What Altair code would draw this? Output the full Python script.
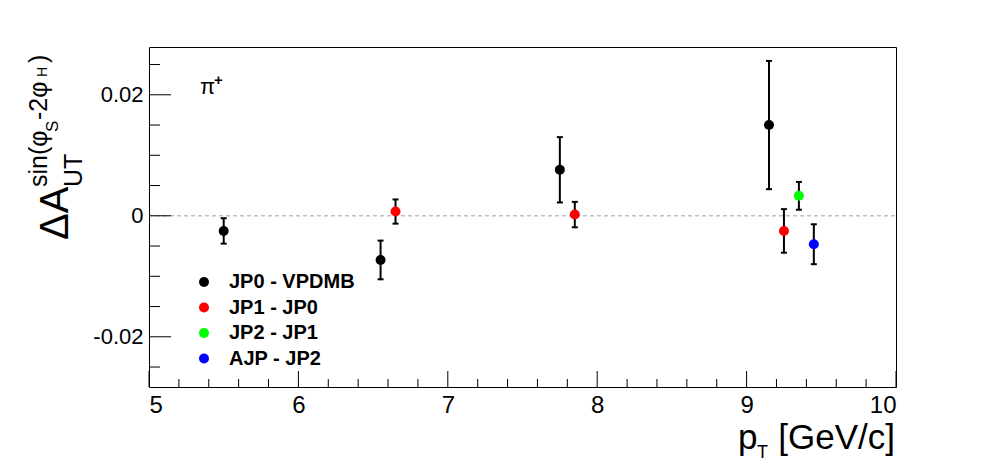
import altair as alt
import pandas as pd

# ---- data ----
series_names = ["JP0 - VPDMB", "JP1 - JP0", "JP2 - JP1", "AJP - JP2"]
series_colors = ["#000000", "#ff0000", "#00ff00", "#0000ff"]

pt = [5.5, 6.55, 6.65, 7.75, 7.85, 9.15, 9.25, 9.35, 9.45]
asym = [-0.0025, -0.0073, 0.0007, 0.0076, 0.0002, 0.0150, -0.0025, 0.0033, -0.0047]
err = [0.0021, 0.0032, 0.0020, 0.0054, 0.0021, 0.0106, 0.0036, 0.0023, 0.0033]
series = ["JP0 - VPDMB", "JP0 - VPDMB", "JP1 - JP0", "JP0 - VPDMB", "JP1 - JP0",
          "JP0 - VPDMB", "JP1 - JP0", "JP2 - JP1", "AJP - JP2"]

x_major = [5, 6, 7, 8, 9, 10]
x_minor = [5.2, 5.4, 5.6, 5.8, 6.2, 6.4, 6.6, 6.8, 7.2, 7.4, 7.6, 7.8,
           8.2, 8.4, 8.6, 8.8, 9.2, 9.4, 9.6, 9.8]
y_major = [-0.02, 0.0, 0.02]
y_minor = [-0.025, -0.015, -0.01, -0.005, 0.005, 0.01, 0.015, 0.025]

x_domain = [5, 10]
y_domain = [-0.0283, 0.0279]

FONT = "Liberation Sans"
W, H = 747, 340

df = pd.DataFrame({"x": pt, "y": asym, "err": err, "series": series})
df["lo"] = df["y"] - df["err"]
df["hi"] = df["y"] + df["err"]

xs = alt.Scale(domain=x_domain, nice=False, zero=False)
ys = alt.Scale(domain=y_domain, nice=False, zero=False)
xaxis = alt.Axis(values=x_major, ticks=False, domain=False, grid=False, title=None,
                 labelFontSize=24, labelFont=FONT, labelColor="black", labelPadding=6,
                 format="d")
yaxis = alt.Axis(values=y_major, ticks=False, domain=False, grid=False, title=None,
                 labelFontSize=22, labelFont=FONT, labelColor="black", labelPadding=6,
                 labelExpr="datum.value == 0 ? '0' : (datum.value < 0 ? '-' : '') + format(abs(datum.value), '.2f')")

X = lambda f: alt.X(f, scale=xs, axis=xaxis)
Y = lambda f: alt.Y(f, scale=ys, axis=yaxis)

# zero reference line
zero = alt.Chart(pd.DataFrame({"x": [x_domain[0]], "x2": [x_domain[1]], "y": [0.0]})).mark_rule(
    color="#c0c0c0", strokeWidth=1.5, strokeDash=[4, 3]
).encode(x=X("x:Q"), x2="x2:Q", y=Y("y:Q"))

bars = alt.Chart(df).mark_rule(color="black", strokeWidth=2).encode(
    x=X("x:Q"), y=Y("lo:Q"), y2="hi:Q")
cap_lo = alt.Chart(df).mark_tick(color="black", orient="horizontal", size=6, thickness=2, opacity=1).encode(
    x=X("x:Q"), y=Y("lo:Q"))
cap_hi = alt.Chart(df).mark_tick(color="black", orient="horizontal", size=6, thickness=2, opacity=1).encode(
    x=X("x:Q"), y=Y("hi:Q"))

points = alt.Chart(df).mark_circle(size=100, opacity=1).encode(
    x=X("x:Q"), y=Y("y:Q"),
    color=alt.Color("series:N",
                    scale=alt.Scale(domain=series_names, range=series_colors),
                    legend=alt.Legend(orient="none", legendX=45, legendY=225, title=None,
                                      symbolType="circle", symbolSize=100, symbolStrokeWidth=0,
                                      labelFont=FONT, labelFontSize=20, labelFontWeight="bold",
                                      labelColor="black", labelOffset=15, rowPadding=5.5,
                                      padding=0, labelLimit=300)),
)

# inward ticks (ROOT style)
def yticks(vals, length):
    return alt.Chart(pd.DataFrame({"y": vals})).mark_rule(color="black", strokeWidth=1).encode(
        y=Y("y:Q"), x=alt.value(0), x2=alt.value(length))

def xticks(vals, length):
    return alt.Chart(pd.DataFrame({"x": vals})).mark_rule(color="black", strokeWidth=1).encode(
        x=X("x:Q"), y=alt.value(H), y2=alt.value(H - length))

def label(text, x, y, size, angle=0, align="left", weight="normal"):
    return alt.Chart(pd.DataFrame({"t": [text]})).mark_text(
        align=align, baseline="alphabetic", fontSize=size, angle=angle, font=FONT,
        fontWeight=weight, color="black"
    ).encode(x=alt.value(x), y=alt.value(y), text="t:N")

labels = [
    # y title: ΔA_UT^{sin(φ_S-2φ_H)}
    label("ΔA", -81, 193, 40, angle=270),
    label("UT", -67, 140, 25, angle=270),
    label("sin(φ", -102, 140, 25, angle=270),
    label("S", -91, 85, 17, angle=270),
    label("-2φ", -102, 73, 25, angle=270),
    label("H", -102, 30, 14, angle=270),
    label(")", -102, 16, 25, angle=270),
    # x title: p_T [GeV/c]
    label("p", 589, 402, 35),
    label("T", 608, 411, 18),
    label("[GeV/c]", 746, 402, 35, align="right"),
    # π+
    label("π", 51, 47, 22),
    label("+", 65, 38, 15, weight="bold"),
]

chart = alt.layer(
    zero, bars, cap_lo, cap_hi, points,
    yticks(y_major, 22), yticks(y_minor, 11),
    xticks(x_major, 16), xticks(x_minor, 8),
    *labels
).properties(
    width=W, height=H,
    autosize=alt.AutoSizeParams(type="none"),
    padding={"left": 141, "top": 39, "right": 60, "bottom": 77},
    background="white",
).configure_view(stroke="black", strokeWidth=1)

chart.save("out.html", embed_options={"renderer": "svg", "actions": False})
